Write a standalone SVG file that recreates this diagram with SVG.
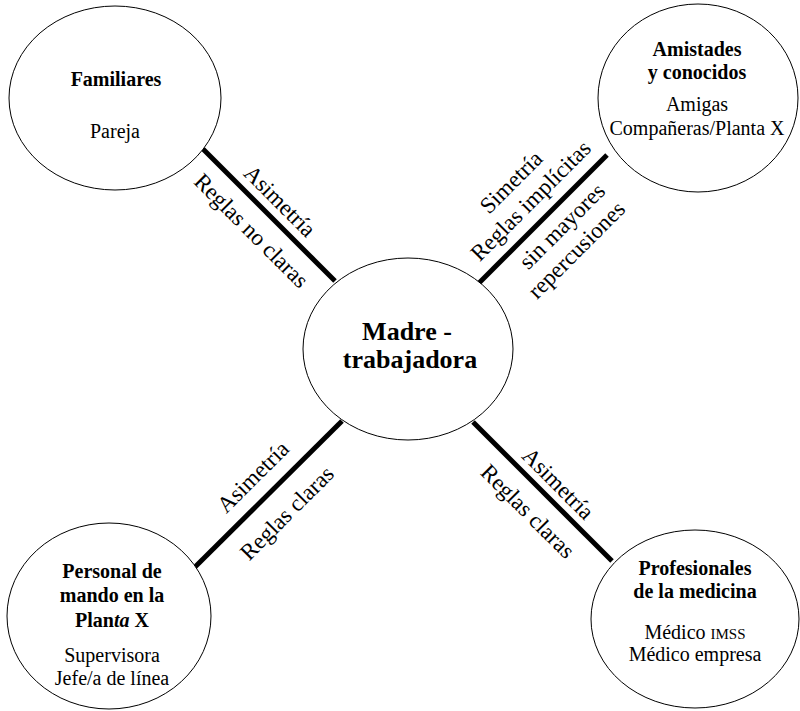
<svg xmlns="http://www.w3.org/2000/svg" width="800" height="711" viewBox="0 0 800 711">
<style>
.node{fill:#fff;stroke:#000;stroke-width:1}
.conn{stroke:#000;stroke-width:5;stroke-linecap:butt}
text{font-family:"Liberation Serif","Times New Roman",serif;fill:#000;text-anchor:middle}
.t{font-weight:bold;font-size:20px}
.s{font-size:20px}
.c{font-weight:bold;font-size:26px}
.e{font-size:23px}
</style>
<rect width="800" height="711" fill="#fff"/>
<g id="connectors">
<line class="conn" x1="203" y1="149" x2="335" y2="281"/>
<line class="conn" x1="607" y1="155" x2="478" y2="284"/>
<line class="conn" x1="342" y1="421" x2="195" y2="567"/>
<line class="conn" x1="473" y1="422" x2="612" y2="561"/>
<text class="e" transform="translate(274.5,206.5) rotate(45)">Asimetría</text>
<text class="e" transform="translate(246,236) rotate(45)">Reglas no claras</text>
<text class="e" transform="translate(516.5,187.5) rotate(-45)">Simetría</text>
<text class="e" transform="translate(536,206) rotate(-45)">Reglas implícitas</text>
<text class="e" transform="translate(567.4,231.4) rotate(-45)">sin mayores</text>
<text class="e" transform="translate(581.8,255.2) rotate(-45)">repercusiones</text>
<text class="e" transform="translate(258.3,482.3) rotate(-45)">Asimetría</text>
<text class="e" transform="translate(292.3,518.3) rotate(-45)">Reglas claras</text>
<text class="e" transform="translate(552.7,489) rotate(45)">Asimetría</text>
<text class="e" transform="translate(522.4,516.7) rotate(45)">Reglas claras</text>
</g>
<g id="madre">
<ellipse class="node" cx="408" cy="349" rx="105" ry="91"/>
<text class="c" x="407" y="340">Madre -</text>
<text class="c" x="410" y="368">trabajadora</text>
</g>
<g id="familiares">
<ellipse class="node" cx="115" cy="98" rx="106" ry="92"/>
<text class="t" x="116" y="86">Familiares</text>
<text class="s" x="115" y="138">Pareja</text>
</g>
<g id="amistades">
<ellipse class="node" cx="698" cy="98" rx="100" ry="94"/>
<text class="t" x="697" y="56">Amistades</text>
<text class="t" x="697" y="79">y conocidos</text>
<text class="s" x="697" y="111">Amigas</text>
<text class="s" x="697" y="135">Compañeras/Planta X</text>
</g>
<g id="personal">
<ellipse class="node" cx="109" cy="616" rx="102" ry="93"/>
<text class="t" x="112" y="578">Personal de</text>
<text class="t" x="112" y="602">mando en la</text>
<text class="t" x="112" y="627">Plan<tspan font-style="italic">ta</tspan> X</text>
<text class="s" x="112" y="662">Supervisora</text>
<text class="s" x="112" y="685">Jefe/a de línea</text>
</g>
<g id="profesionales">
<ellipse class="node" cx="695" cy="619" rx="104" ry="89"/>
<text class="t" x="695" y="575">Profesionales</text>
<text class="t" x="695" y="598">de la medicina</text>
<text class="s" x="695" y="639">Médico <tspan font-size="15">IMSS</tspan></text>
<text class="s" x="695" y="661">Médico empresa</text>
</g>
</svg>
